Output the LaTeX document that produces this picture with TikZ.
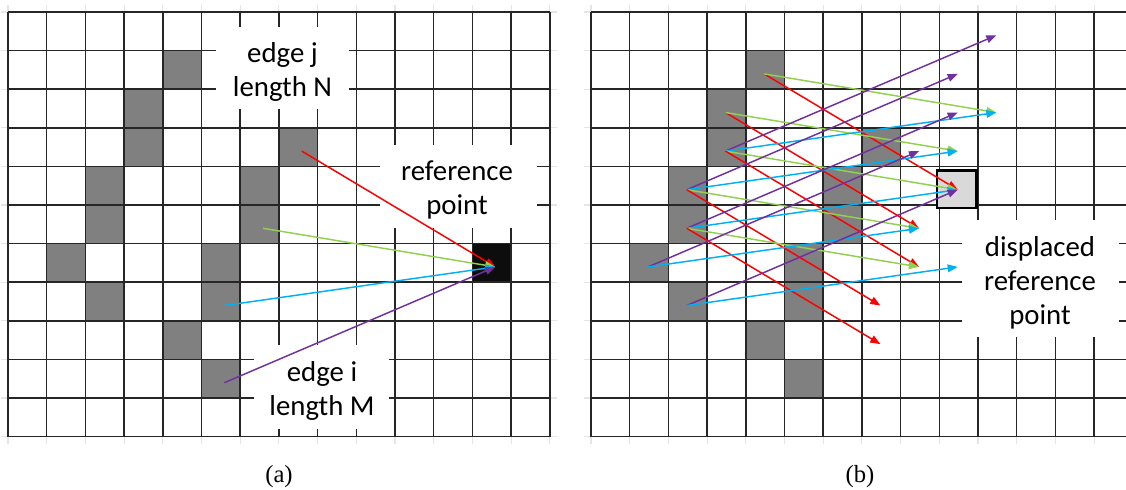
\documentclass[tikz,border=0pt]{standalone}
\usepackage{fontspec}
\setmainfont{Carlito}
\newfontfamily\capfont{Liberation Serif}
\usepackage{xcolor}
\definecolor{cellgrey}{HTML}{808080}
\definecolor{refgrey}{HTML}{D9D9D9}
\definecolor{vecred}{HTML}{FF0000}
\definecolor{vecgreen}{HTML}{92D050}
\definecolor{vecblue}{HTML}{00B0F0}
\definecolor{vecpurple}{HTML}{7030A0}
\usepackage{tikz}
\usetikzlibrary{arrows.meta}

\begin{document}
\begin{tikzpicture}[
    x=0.75pt, y=-0.75pt,
    gridline/.style={line width=1.1pt, black!85},
    faintline/.style={line width=0.8pt, black!10},
    cell/.style={fill=cellgrey},
    labeltext/.style={inner sep=0pt, align=center, font=\fontsize{21.6}{25.5}\selectfont},
    caption/.style={font=\capfont\fontsize{18.5}{22}\selectfont},
    vec/.style={line width=1.1pt, -{Triangle[length=7.5pt,width=5.8pt]}}
  ]
    \useasboundingbox (0,0) rectangle (1126,489);
    \clip (0,0) rectangle (1126,489);

    % Grids (a) and (b): 14 x 11 cells
    \foreach \p/\ox/\dx in {a/8/3.5, b/591/-1} {
      \foreach \c in {0,...,14}
        \draw[faintline] ({\ox+\c*38.7},5) -- ({\ox+\c*38.7},444);
      \foreach \r in {0,...,11}
        \draw[faintline] ({\ox-7},{12+\r*38.6}) -- ({\ox+14*38.7+7},{12+\r*38.6});
      \foreach \c/\r in {4/1,3/2,3/3,7/3,2/4,6/4,2/5,6/5,1/6,5/6,2/7,5/7,4/8,5/9}
        \fill[cell] ({\ox+\c*38.7},{12+\r*38.6}) rectangle ++(38.7,38.6);
      \foreach \c in {0,...,13}
        \foreach \r in {0,...,10}
          \coordinate (\p-\c-\r) at ({\ox+(\c+0.5)*38.7+\dx},{12+(\r+0.5)*38.6+4});
    }
    % reference point cell
    \fill[black!95] ({8+12*38.7},{12+6*38.6}) rectangle ++(38.7,38.6);
    \foreach \ox in {8, 591} {
      \foreach \c in {0,...,14}
        \draw[gridline] ({\ox+\c*38.7},12) -- ({\ox+\c*38.7},{12+11*38.6});
      \foreach \r in {0,...,11}
        \draw[gridline] (\ox,{12+\r*38.6}) -- ({\ox+14*38.7},{12+\r*38.6});
    }

    % Labels on white patches
    \fill[white] (216,27) rectangle (349,109);
    \fill[white] (380,145) rectangle (537,228);
    \fill[white] (254,345) rectangle (389,429);
    \fill[white] (962,220) rectangle (1119,337);
    \node[labeltext] (edgej) at (282.5,72) {edge j\\length N};
    \node[labeltext] (refpt) at (457,190) {reference\\point};
    \node[labeltext] (edgei) at (322,391) {edge i\\length M};
    \node[labeltext] (dispref) at (1040,282.5) {displaced\\reference\\point};

    % displaced reference cell
    \draw[line width=2.2pt, fill=refgrey] (937,170.5) rectangle (976.5,208);

    % Vectors towards the reference point
    \draw[vec, vecred] (a-7-3) -- (a-12-6);
    \draw[vec, vecgreen] (a-6-5) -- (a-12-6);
    \draw[vec, vecblue] (a-5-7) -- (a-12-6);
    \draw[vec, vecpurple] (a-5-9) -- (a-12-6);

    % Same vectors placed on edge i
    \foreach \s/\e/\col in {4-1/9-4/vecred, 4-1/10-2/vecgreen,
        3-2/8-5/vecred, 3-2/9-3/vecgreen,
        3-3/10-0/vecpurple, 3-3/10-2/vecblue, 3-3/9-4/vecgreen, 3-3/8-6/vecred,
        2-4/9-1/vecpurple, 2-4/9-3/vecblue, 2-4/8-5/vecgreen, 2-4/7-7/vecred,
        2-5/9-2/vecpurple, 2-5/9-4/vecblue, 2-5/8-6/vecgreen, 2-5/7-8/vecred,
        1-6/8-3/vecpurple, 1-6/8-5/vecblue,
        2-7/9-4/vecpurple, 2-7/9-6/vecblue}
      \draw[vec, \col] (b-\s) -- (b-\e);

    % Captions
    \node[caption] (capa) at (279,476.5) {(a)};
    \node[caption] (capb) at (860,476.5) {(b)};
\end{tikzpicture}
\end{document}
